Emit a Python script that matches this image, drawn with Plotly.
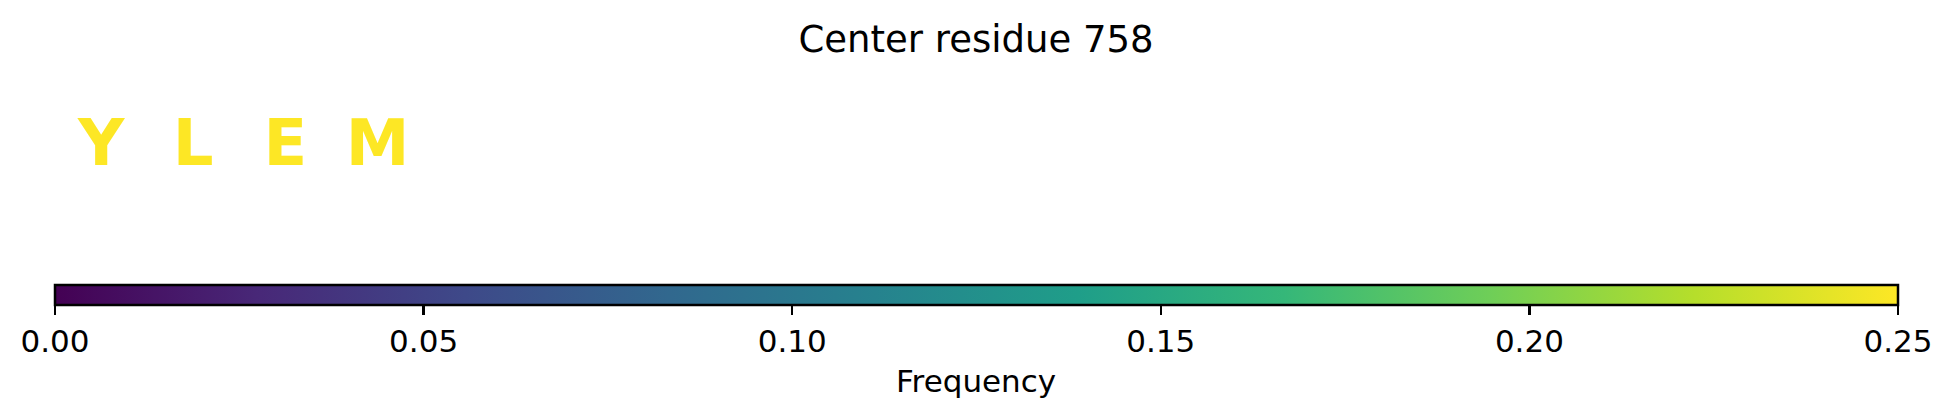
import plotly.graph_objects as go
from plotly.colors import sample_colorscale

# ---- data ----
title_text = "Center residue 758"
residues = ["Y", "L", "E", "M"]
positions = [0, 1, 2, 3]
frequencies = [0.25, 0.25, 0.25, 0.25]
n_slots = 20
freq_min, freq_max = 0.0, 0.25
tick_values = [0.00, 0.05, 0.10, 0.15, 0.20, 0.25]
tick_labels = ["0.00", "0.05", "0.10", "0.15", "0.20", "0.25"]
colorbar_title = "Frequency"

W, H = 1952, 416
FONT = "DejaVu Sans"

bar_left, bar_right = 55, 1898
bar_top, bar_thick = 285, 20

text_colors = sample_colorscale(
    "Viridis", [(f - freq_min) / (freq_max - freq_min) for f in frequencies]
)

fig = go.Figure()
fig.add_trace(
    go.Scatter(
        x=positions,
        y=[0] * len(positions),
        mode="markers+text",
        text=residues,
        textposition="middle center",
        textfont=dict(family=FONT, size=64, color=text_colors, weight="bold"),
        marker=dict(
            size=1,
            opacity=0,
            color=frequencies,
            colorscale="Viridis",
            cmin=freq_min,
            cmax=freq_max,
            showscale=True,
            colorbar=dict(
                orientation="h",
                lenmode="pixels",
                len=bar_right - bar_left,
                thicknessmode="pixels",
                thickness=bar_thick,
                x=(bar_left + bar_right) / 2 / W,
                xanchor="center",
                y=1 - bar_top / H,
                yanchor="top",
                xpad=0,
                ypad=0,
                outlinecolor="black",
                outlinewidth=2.5,
                ticks="outside",
                ticklen=9,
                tickwidth=2.5,
                tickcolor="black",
                tickvals=tick_values,
                ticktext=tick_labels,
                tickfont=dict(family=FONT, size=31, color="black"),
            ),
        ),
        hoverinfo="skip",
        showlegend=False,
    )
)

fig.add_annotation(
    text=colorbar_title,
    xref="paper",
    yref="paper",
    x=(bar_left + bar_right) / 2 / W,
    y=1 - 381 / H,
    xanchor="center",
    yanchor="middle",
    showarrow=False,
    font=dict(family=FONT, size=31, color="black"),
)

fig.update_layout(
    width=W,
    height=H,
    margin=dict(l=0, r=0, t=0, b=0, autoexpand=False),
    paper_bgcolor="white",
    plot_bgcolor="white",
    hovermode=False,
    title=dict(
        text=title_text,
        x=0.5,
        xanchor="center",
        y=1 - 39.5 / H,
        yanchor="middle",
        yref="container",
        font=dict(family=FONT, size=37, color="black"),
    ),
    xaxis=dict(
        visible=False,
        range=[-0.5, n_slots - 0.5],
        domain=[bar_left / W, bar_right / W],
    ),
    yaxis=dict(
        visible=False,
        range=[-1, 1],
        domain=[0.388, 0.898],
    ),
)

fig.write_html(
    "out.html",
    config={"displayModeBar": False, "staticPlot": True},
    post_script="document.body.style.margin='0';document.body.style.overflow='hidden';",
)
